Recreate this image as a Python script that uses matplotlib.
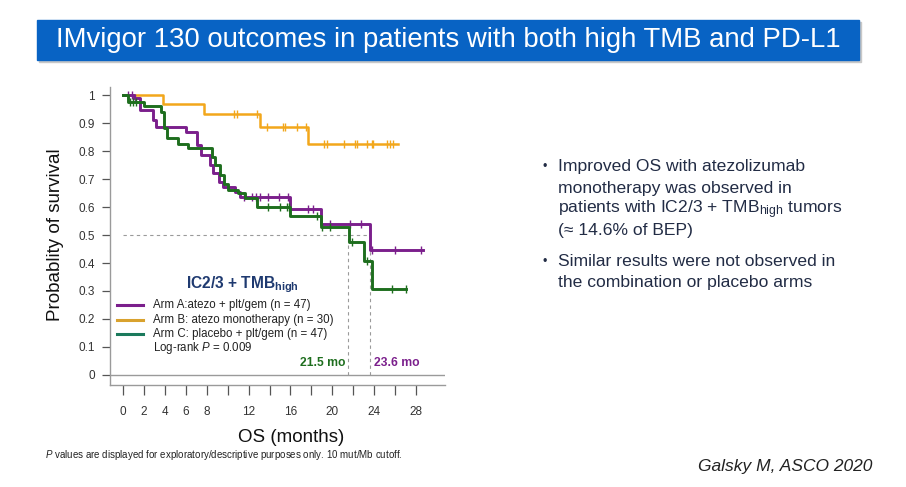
import numpy as np
import matplotlib
matplotlib.use("Agg")
import matplotlib.pyplot as plt
from matplotlib.patches import Rectangle
from matplotlib.lines import Line2D

plt.rcParams['font.family'] = ['Liberation Sans', 'DejaVu Sans']
plt.rcParams['mathtext.fontset'] = 'custom'
plt.rcParams['mathtext.rm'] = 'Liberation Sans'
plt.rcParams['mathtext.it'] = 'Liberation Sans:italic'
plt.rcParams['mathtext.bf'] = 'Liberation Sans:bold'

# Kaplan-Meier steps (time in months, survival after each drop)
arm_a_t = [0, 1.0, 1.6, 2.8, 3.1, 6.0, 7.1, 7.4, 8.3, 8.6, 9.2, 9.5, 10.7, 11.2, 16.0, 18.9, 23.6]
arm_a_s = [1.0, 0.988, 0.946, 0.911, 0.887, 0.869, 0.821, 0.786, 0.75, 0.72, 0.69, 0.673, 0.655, 0.637, 0.592, 0.539, 0.446]
arm_a_end = 28.7
arm_a_cens = [0.5, 0.8, 1.1, 11.6, 12.3, 12.7, 13.1, 13.9, 14.9, 15.8, 17.7, 18.2, 19.8, 21.7, 22.8, 23.8, 26.0, 28.5]

arm_b_t = [0, 3.8, 7.7, 13.1, 17.7]
arm_b_s = [1.0, 0.967, 0.931, 0.887, 0.825]
arm_b_end = 26.3
arm_b_cens = [10.6, 10.9, 12.8, 13.8, 15.3, 15.5, 16.6, 17.5, 19.2, 19.5, 21.1, 22.2, 22.4,
              23.3, 23.8, 23.9, 25.2, 25.5, 25.8]

arm_c_t = [0, 0.5, 2.0, 3.6, 3.9, 4.2, 5.2, 6.2, 8.5, 8.8, 9.3, 9.6, 10.0, 11.0, 11.7, 12.8,
           16.0, 18.9, 21.6, 23.0, 23.8]
arm_c_s = [1.0, 0.975, 0.962, 0.94, 0.881, 0.845, 0.827, 0.81, 0.78, 0.75, 0.714, 0.684, 0.661,
           0.649, 0.631, 0.601, 0.567, 0.527, 0.476, 0.408, 0.307]
arm_c_end = 27.1
arm_c_cens = [0.6, 0.9, 1.2, 13.9, 15.0, 15.7, 15.9, 18.5, 19.0, 19.8, 21.9, 23.3, 25.7, 27.1]

median_c = 21.5
median_a = 23.6

x_ticks = list(range(0, 30, 2))
x_labels = ['0', '2', '4', '6', '8', '', '12', '', '16', '', '20', '', '24', '', '28']
y_ticks = [0, 0.1, 0.2, 0.3, 0.4, 0.5, 0.6, 0.7, 0.8, 0.9, 1.0]
y_labels = ['0', '0.1', '0.2', '0.3', '0.4', '0.5', '0.6', '0.7', '0.8', '0.9', '1']

legend_labels = ['Arm A:atezo + plt/gem (n = 47)',
                 'Arm B: atezo monotherapy (n = 30)',
                 'Arm C: placebo + plt/gem (n = 47)']

bullet_1 = ['Improved OS with atezolizumab',
            'monotherapy was observed in',
            r'patients with IC2/3 + TMB$_{\mathregular{high}}$ tumors',
            '(≈ 14.6% of BEP)']
bullet_2 = ['Similar results were not observed in',
            'the combination or placebo arms']

PURPLE = '#7b1f8c'
ORANGE = '#f2a71b'
GREEN = '#1e6e1e'
LEG_ORANGE = '#d9a22e'
LEG_GREEN = '#1b7a5c'
NAVY = '#1f3a70'
TXT = '#222c45'

W, H = 906, 487
fx = lambda px: px / W
fy = lambda py: 1 - py / H

fig = plt.figure(figsize=(W / 100, H / 100), dpi=100)
fig.patch.set_facecolor('white')

# title banner
fig.add_artist(Rectangle((fx(39), fy(62)), fx(861) - fx(39), fy(22) - fy(62),
                         transform=fig.transFigure, color='#c8c8c8', zorder=0))
fig.add_artist(Rectangle((fx(37), fy(60)), fx(859) - fx(37), fy(20) - fy(60),
                         transform=fig.transFigure, color='#0863c4', zorder=1))
fig.text(fx(448), fy(40), 'IMvigor 130 outcomes in patients with both high TMB and PD-L1',
         color='white', fontsize=19.8, ha='center', va='center', zorder=2)

ax = fig.add_axes([fx(110), fy(385), fx(445) - fx(110), fy(87) - fy(385)])
ax.set_xlim(-1.27, 30.8)
ax.set_ylim(-0.036, 1.029)


def km(t, s, t_end, cens, color, lw):
    tt = np.append(t, t_end)
    ss = np.append(s, s[-1])
    ax.step(tt, ss, where='post', color=color, lw=lw, zorder=3)
    idx = np.searchsorted(t, cens, side='right') - 1
    ax.plot(cens, np.array(s)[idx], ls='none', marker='|', ms=6, mew=1.0, color=color, zorder=3)


km(arm_b_t, arm_b_s, arm_b_end, arm_b_cens, ORANGE, 1.8)
km(arm_a_t, arm_a_s, arm_a_end, arm_a_cens, PURPLE, 2.1)
km(arm_c_t, arm_c_s, arm_c_end, arm_c_cens, GREEN, 2.1)

# median reference lines
dash = dict(color='#9a9a9a', lw=0.8, dashes=(3, 3), zorder=1)
ax.plot([0, median_a], [0.5, 0.5], **dash)
ax.plot([median_c, median_c], [0, 0.5], **dash)
ax.plot([median_a, median_a], [0, 0.5], **dash)
ax.axhline(0, color='#9a9a9a', lw=1.0, zorder=1)

ax.set_xticks(x_ticks)
ax.set_xticklabels(x_labels)
ax.set_yticks(y_ticks)
ax.set_yticklabels(y_labels)
ax.tick_params(axis='x', length=7, width=0.9, color='#555555', pad=8, labelsize=8.5, labelcolor='#333333')
ax.tick_params(axis='y', length=6, width=0.9, color='#555555', pad=5, labelsize=8.5, labelcolor='#333333')
for side in ['top', 'right']:
    ax.spines[side].set_visible(False)
for side in ['left', 'bottom']:
    ax.spines[side].set_color('#9a9a9a')
    ax.spines[side].set_linewidth(1.0)

fig.text(fx(56), fy(235), 'Probablity of survival', rotation=90, fontsize=13.5,
         ha='center', va='center', color='#111111')
fig.text(fx(291), fy(437), 'OS (months)', fontsize=13.5, ha='center', va='center', color='#111111')

# in-plot legend block
fig.text(fx(242), fy(288), r'IC2/3 + TMB$_{\mathbf{high}}$', fontsize=11.2, fontweight='bold',
         color=NAVY, ha='center', va='baseline')
leg_y = [305, 320, 333.5]
for y, lab, col in zip(leg_y, legend_labels, [PURPLE, LEG_ORANGE, LEG_GREEN]):
    fig.add_artist(Line2D([fx(117), fx(143)], [fy(y), fy(y)], color=col, lw=2.2,
                          transform=fig.transFigure))
    fig.text(fx(153), fy(y), lab, fontsize=8.3, va='center', color='#222222')
fig.text(fx(153), fy(348.5), r'Log-rank $\mathit{P}$ = 0.009', fontsize=8.3, va='center', color='#222222')

ax.text(median_c - 0.2, 0.02, f'{median_c} mo', color=GREEN, fontsize=8.7, fontweight='bold',
        ha='right', va='bottom')
ax.text(median_a + 0.4, 0.02, f'{median_a} mo', color=PURPLE, fontsize=8.7, fontweight='bold',
        ha='left', va='bottom')

# bullets on the right (baseline-aligned so the subscript line does not shift)
for i, line in enumerate(bullet_1):
    fig.text(fx(558), fy(171.5 + 21 * i), line, fontsize=12.6, va='baseline', color=TXT)
fig.text(fx(545), fy(167), '•', fontsize=9, va='center', ha='center', color=TXT)
for i, line in enumerate(bullet_2):
    fig.text(fx(558), fy(266.5 + 21 * i), line, fontsize=12.6, va='baseline', color=TXT)
fig.text(fx(545), fy(262), '•', fontsize=9, va='center', ha='center', color=TXT)

fig.text(fx(45), fy(455), r'$\mathit{P}$ values are displayed for exploratory/descriptive purposes only. 10 mut/Mb cutoff.',
         fontsize=7.0, va='center', color='#222222')
fig.text(fx(872), fy(467), 'Galsky M, ASCO 2020', fontsize=12.5, style='italic',
         ha='right', va='center', color='#222222')

fig.savefig('out.png', dpi=100)
